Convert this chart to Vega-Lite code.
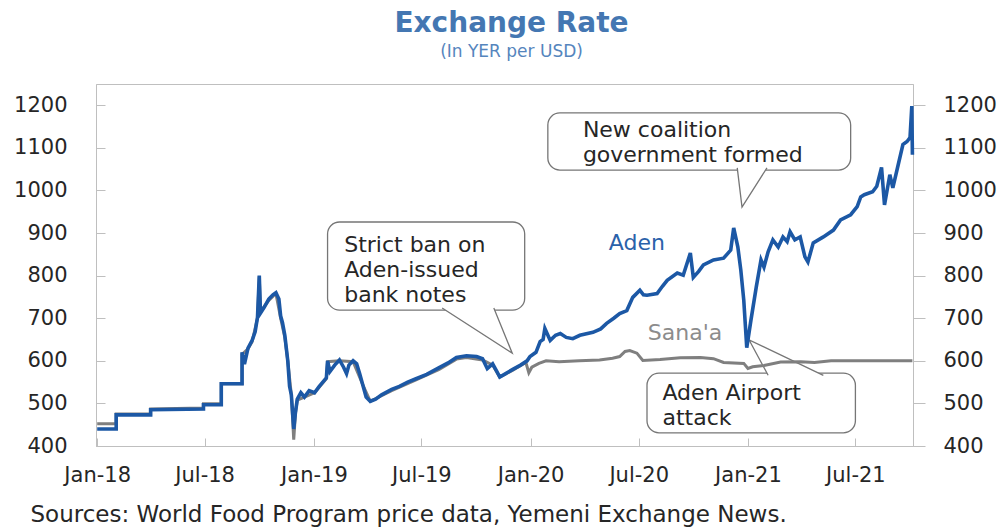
{
  "$schema": "https://vega.github.io/schema/vega-lite/v6.json",
  "width": 817,
  "height": 362,
  "autosize": {"type": "none"},
  "padding": {"left": 96, "top": 84, "right": 95, "bottom": 81},
  "background": "white",
  "title": {
    "text": "Exchange Rate",
    "subtitle": "(In YER per USD)",
    "anchor": "middle",
    "frame": "group",
    "dx": 7,
    "offset": 24,
    "font": "DejaVu Sans",
    "fontSize": 28,
    "fontWeight": "bold",
    "color": "#4477b2",
    "subtitleFont": "DejaVu Sans",
    "subtitleFontSize": 17,
    "subtitleColor": "#5585bd",
    "subtitlePadding": 6
  },
  "config": {
    "view": {"stroke": "#bfbfbf", "strokeWidth": 1},
    "font": "DejaVu Sans"
  },
  "datasets": {
    "aden": [
      {"date": "2018-01-01", "value": 440}, {"date": "2018-02-02", "value": 440}, {"date": "2018-02-02", "value": 473},
      {"date": "2018-04-01", "value": 473}, {"date": "2018-04-01", "value": 485}, {"date": "2018-06-29", "value": 487},
      {"date": "2018-06-29", "value": 497}, {"date": "2018-07-29", "value": 497}, {"date": "2018-07-29", "value": 546},
      {"date": "2018-09-02", "value": 546}, {"date": "2018-09-02", "value": 620}, {"date": "2018-09-06", "value": 592},
      {"date": "2018-09-12", "value": 630}, {"date": "2018-09-19", "value": 648}, {"date": "2018-09-24", "value": 668},
      {"date": "2018-09-28", "value": 702}, {"date": "2018-10-01", "value": 800}, {"date": "2018-10-03", "value": 712},
      {"date": "2018-10-09", "value": 725}, {"date": "2018-10-17", "value": 745}, {"date": "2018-10-24", "value": 755},
      {"date": "2018-10-29", "value": 760}, {"date": "2018-11-03", "value": 745}, {"date": "2018-11-06", "value": 705},
      {"date": "2018-11-09", "value": 690}, {"date": "2018-11-13", "value": 660}, {"date": "2018-11-18", "value": 600},
      {"date": "2018-11-21", "value": 540}, {"date": "2018-11-24", "value": 520}, {"date": "2018-11-28", "value": 440},
      {"date": "2018-12-01", "value": 480}, {"date": "2018-12-04", "value": 510}, {"date": "2018-12-10", "value": 525},
      {"date": "2018-12-16", "value": 515}, {"date": "2018-12-24", "value": 530}, {"date": "2019-01-02", "value": 525},
      {"date": "2019-01-10", "value": 540}, {"date": "2019-01-16", "value": 550}, {"date": "2019-01-22", "value": 560},
      {"date": "2019-01-24", "value": 600}, {"date": "2019-01-28", "value": 575}, {"date": "2019-02-05", "value": 590},
      {"date": "2019-02-13", "value": 602}, {"date": "2019-02-20", "value": 585}, {"date": "2019-02-25", "value": 570},
      {"date": "2019-03-01", "value": 590}, {"date": "2019-03-08", "value": 600}, {"date": "2019-03-14", "value": 593},
      {"date": "2019-03-19", "value": 570}, {"date": "2019-03-24", "value": 545}, {"date": "2019-03-30", "value": 515},
      {"date": "2019-04-06", "value": 505}, {"date": "2019-04-15", "value": 510}, {"date": "2019-04-25", "value": 520},
      {"date": "2019-05-12", "value": 533}, {"date": "2019-05-25", "value": 540}, {"date": "2019-06-08", "value": 550},
      {"date": "2019-06-22", "value": 558}, {"date": "2019-07-10", "value": 568}, {"date": "2019-07-31", "value": 584},
      {"date": "2019-08-15", "value": 595}, {"date": "2019-08-29", "value": 608}, {"date": "2019-09-15", "value": 612},
      {"date": "2019-10-02", "value": 610}, {"date": "2019-10-12", "value": 605}, {"date": "2019-10-20", "value": 582},
      {"date": "2019-10-29", "value": 593}, {"date": "2019-11-05", "value": 575}, {"date": "2019-11-10", "value": 562},
      {"date": "2019-11-20", "value": 570}, {"date": "2019-12-02", "value": 580}, {"date": "2019-12-15", "value": 590},
      {"date": "2019-12-26", "value": 600}, {"date": "2019-12-31", "value": 610}, {"date": "2020-01-10", "value": 620},
      {"date": "2020-01-17", "value": 645}, {"date": "2020-01-22", "value": 650}, {"date": "2020-01-25", "value": 676},
      {"date": "2020-02-03", "value": 648}, {"date": "2020-02-12", "value": 660}, {"date": "2020-02-20", "value": 664},
      {"date": "2020-03-01", "value": 655}, {"date": "2020-03-12", "value": 652}, {"date": "2020-03-24", "value": 660},
      {"date": "2020-04-15", "value": 667}, {"date": "2020-04-28", "value": 675}, {"date": "2020-05-08", "value": 688},
      {"date": "2020-05-20", "value": 700}, {"date": "2020-05-30", "value": 711}, {"date": "2020-06-11", "value": 718},
      {"date": "2020-06-21", "value": 749}, {"date": "2020-07-03", "value": 766}, {"date": "2020-07-09", "value": 755},
      {"date": "2020-07-15", "value": 754}, {"date": "2020-08-01", "value": 758}, {"date": "2020-08-10", "value": 775},
      {"date": "2020-08-18", "value": 789}, {"date": "2020-09-04", "value": 806}, {"date": "2020-09-14", "value": 801},
      {"date": "2020-09-26", "value": 853}, {"date": "2020-10-01", "value": 796}, {"date": "2020-10-10", "value": 810},
      {"date": "2020-10-18", "value": 825}, {"date": "2020-11-04", "value": 837}, {"date": "2020-11-21", "value": 841},
      {"date": "2020-12-03", "value": 860}, {"date": "2020-12-08", "value": 912}, {"date": "2020-12-15", "value": 867},
      {"date": "2020-12-20", "value": 813}, {"date": "2020-12-25", "value": 742}, {"date": "2020-12-30", "value": 631},
      {"date": "2021-01-06", "value": 695}, {"date": "2021-01-15", "value": 773}, {"date": "2021-01-23", "value": 837},
      {"date": "2021-01-28", "value": 820}, {"date": "2021-02-04", "value": 856}, {"date": "2021-02-12", "value": 884},
      {"date": "2021-02-21", "value": 867}, {"date": "2021-03-01", "value": 891}, {"date": "2021-03-08", "value": 880},
      {"date": "2021-03-13", "value": 903}, {"date": "2021-03-21", "value": 884}, {"date": "2021-03-30", "value": 891},
      {"date": "2021-04-07", "value": 844}, {"date": "2021-04-12", "value": 832}, {"date": "2021-04-21", "value": 877},
      {"date": "2021-05-08", "value": 891}, {"date": "2021-05-25", "value": 907}, {"date": "2021-06-06", "value": 931},
      {"date": "2021-06-23", "value": 943}, {"date": "2021-07-04", "value": 962}, {"date": "2021-07-10", "value": 985},
      {"date": "2021-07-16", "value": 990}, {"date": "2021-07-30", "value": 997}, {"date": "2021-08-06", "value": 1010},
      {"date": "2021-08-14", "value": 1054}, {"date": "2021-08-19", "value": 966}, {"date": "2021-08-28", "value": 1037},
      {"date": "2021-09-02", "value": 1006}, {"date": "2021-09-10", "value": 1054}, {"date": "2021-09-19", "value": 1108},
      {"date": "2021-09-26", "value": 1115}, {"date": "2021-10-01", "value": 1124}, {"date": "2021-10-04", "value": 1198},
      {"date": "2021-10-05", "value": 1084}
    ],
    "sanaa": [
      {"date": "2018-01-01", "value": 452}, {"date": "2018-02-02", "value": 452}, {"date": "2018-02-02", "value": 475},
      {"date": "2018-04-01", "value": 475}, {"date": "2018-04-01", "value": 487}, {"date": "2018-06-29", "value": 489},
      {"date": "2018-06-29", "value": 499}, {"date": "2018-07-29", "value": 499}, {"date": "2018-07-29", "value": 546},
      {"date": "2018-09-02", "value": 546}, {"date": "2018-09-02", "value": 615}, {"date": "2018-09-12", "value": 628},
      {"date": "2018-09-19", "value": 645}, {"date": "2018-09-28", "value": 700}, {"date": "2018-10-01", "value": 798},
      {"date": "2018-10-03", "value": 715}, {"date": "2018-10-17", "value": 742}, {"date": "2018-10-29", "value": 758},
      {"date": "2018-11-06", "value": 700}, {"date": "2018-11-13", "value": 655}, {"date": "2018-11-18", "value": 600},
      {"date": "2018-11-24", "value": 520}, {"date": "2018-11-28", "value": 415}, {"date": "2018-12-01", "value": 478},
      {"date": "2018-12-04", "value": 508}, {"date": "2018-12-16", "value": 515}, {"date": "2019-01-02", "value": 525},
      {"date": "2019-01-22", "value": 558}, {"date": "2019-01-24", "value": 598}, {"date": "2019-02-13", "value": 600},
      {"date": "2019-03-08", "value": 598}, {"date": "2019-03-24", "value": 545}, {"date": "2019-04-06", "value": 505},
      {"date": "2019-05-12", "value": 530}, {"date": "2019-06-22", "value": 555}, {"date": "2019-07-31", "value": 580},
      {"date": "2019-08-29", "value": 604}, {"date": "2019-09-15", "value": 608}, {"date": "2019-10-12", "value": 602},
      {"date": "2019-10-29", "value": 590}, {"date": "2019-11-10", "value": 562}, {"date": "2019-12-02", "value": 578},
      {"date": "2019-12-24", "value": 596}, {"date": "2019-12-29", "value": 572}, {"date": "2020-01-03", "value": 585},
      {"date": "2020-01-15", "value": 594}, {"date": "2020-01-27", "value": 600}, {"date": "2020-02-18", "value": 598},
      {"date": "2020-03-23", "value": 600}, {"date": "2020-04-26", "value": 602}, {"date": "2020-05-18", "value": 606},
      {"date": "2020-05-30", "value": 610}, {"date": "2020-06-08", "value": 622}, {"date": "2020-06-16", "value": 624},
      {"date": "2020-06-28", "value": 618}, {"date": "2020-07-08", "value": 601}, {"date": "2020-08-06", "value": 603},
      {"date": "2020-09-09", "value": 607}, {"date": "2020-10-13", "value": 608}, {"date": "2020-11-04", "value": 605},
      {"date": "2020-11-21", "value": 596}, {"date": "2020-12-25", "value": 594}, {"date": "2021-01-01", "value": 582},
      {"date": "2021-01-09", "value": 586}, {"date": "2021-01-28", "value": 589}, {"date": "2021-02-25", "value": 597},
      {"date": "2021-03-31", "value": 598}, {"date": "2021-04-23", "value": 596}, {"date": "2021-05-21", "value": 600},
      {"date": "2021-07-12", "value": 600}, {"date": "2021-10-05", "value": 600}
    ],
    "boxes": [
      {"id": "ban", "x1": "2019-01-24", "x2": "2019-12-22", "y1": 926, "y2": 719},
      {"id": "coalition", "x1": "2020-01-30", "x2": "2021-06-23", "y1": 1182, "y2": 1048},
      {"id": "airport", "x1": "2020-07-15", "x2": "2021-07-01", "y1": 571, "y2": 431}
    ],
    "pointers": [
      {"id": "ban", "k": 1, "date": "2019-08-05", "value": 724},
      {"id": "ban", "k": 2, "date": "2019-12-01", "value": 618},
      {"id": "ban", "k": 3, "date": "2019-10-31", "value": 724},
      {"id": "coalition", "k": 1, "date": "2020-12-14", "value": 1053},
      {"id": "coalition", "k": 2, "date": "2020-12-22", "value": 961},
      {"id": "coalition", "k": 3, "date": "2021-02-02", "value": 1053},
      {"id": "airport", "k": 1, "date": "2021-02-04", "value": 566},
      {"id": "airport", "k": 2, "date": "2021-01-03", "value": 649},
      {"id": "airport", "k": 3, "date": "2021-05-08", "value": 566}
    ],
    "notes": [
      {"label": "Strict ban on", "date": "2019-02-21", "value": 872},
      {"label": "Aden-issued", "date": "2019-02-21", "value": 813},
      {"label": "bank notes", "date": "2019-02-21", "value": 755},
      {"label": "New coalition", "date": "2020-03-29", "value": 1142},
      {"label": "government formed", "date": "2020-03-29", "value": 1083},
      {"label": "Aden Airport", "date": "2020-08-10", "value": 524},
      {"label": "attack", "date": "2020-08-10", "value": 466}
    ],
    "series": [
      {"label": "Aden", "date": "2020-06-28", "value": 877},
      {"label": "Sana'a", "date": "2020-09-17", "value": 665}
    ]
  },
  "layer": [
    {
      "data": {"name": "boxes"},
      "mark": {"type": "rect", "fill": "white", "stroke": "#767676", "strokeWidth": 1.3, "cornerRadius": 12},
      "encoding": {
        "x": {
          "field": "x1", "type": "temporal",
          "scale": {"domain": [{"year": 2017, "month": 12, "date": 30}, {"year": 2021, "month": 10, "date": 6}]},
          "axis": {
            "format": "%b-%y", "tickCount": {"interval": "month", "step": 6}, "labelFlush": false, "labelOverlap": false,
            "grid": false, "domainColor": "#bfbfbf", "tickColor": "#bfbfbf", "tickSize": -8, "labelPadding": 26,
            "labelFontSize": 21, "labelColor": "#262626", "labelFont": "DejaVu Sans",
            "title": "Sources: World Food Program price data, Yemeni Exchange News.",
            "titleAnchor": "start", "titleAlign": "left", "titleX": -66, "titleY": 75, "titleBaseline": "alphabetic",
            "titleFont": "DejaVu Sans", "titleFontSize": 23, "titleFontWeight": "normal", "titleColor": "#262626"
          }
        },
        "x2": {"field": "x2"},
        "y": {"field": "y1", "type": "quantitative", "axis": null, "scale": {"domain": [400, 1250], "zero": false, "nice": false}},
        "y2": {"field": "y2"}
      }
    },
    {
      "data": {"name": "pointers"},
      "mark": {"type": "line", "fill": "white", "stroke": "#767676", "strokeWidth": 1.3},
      "encoding": {
        "x": {"field": "date", "type": "temporal"},
        "y": {"field": "value", "type": "quantitative", "axis": null, "scale": {"domain": [400, 1250], "zero": false, "nice": false}},
        "detail": {"field": "id"},
        "order": {"field": "k"}
      }
    },
    {
      "data": {"name": "sanaa"},
      "mark": {"type": "line", "color": "#7f7f7f", "strokeWidth": 3},
      "encoding": {
        "x": {"field": "date", "type": "temporal"},
        "y": {
          "field": "value", "type": "quantitative",
          "scale": {"domain": [400, 1250], "zero": false, "nice": false},
          "axis": {
            "orient": "right", "title": null, "values": [400, 500, 600, 700, 800, 900, 1000, 1100, 1200], "format": "d",
            "grid": false, "domainColor": "#bfbfbf", "tickColor": "#bfbfbf", "tickSize": 12, "labelPadding": 18,
            "labelFontSize": 21, "labelColor": "#262626", "labelFont": "DejaVu Sans"
          }
        }
      }
    },
    {
      "data": {"name": "aden"},
      "mark": {"type": "line", "color": "#1c58a5", "strokeWidth": 3.6},
      "encoding": {
        "x": {"field": "date", "type": "temporal"},
        "y": {
          "field": "value", "type": "quantitative",
          "scale": {"domain": [400, 1250], "zero": false, "nice": false},
          "axis": {
            "orient": "left", "title": null, "values": [400, 500, 600, 700, 800, 900, 1000, 1100, 1200], "format": "d",
            "grid": false, "domainColor": "#bfbfbf", "tickColor": "#bfbfbf", "tickSize": -9, "labelPadding": 38,
            "labelFontSize": 21, "labelColor": "#262626", "labelFont": "DejaVu Sans"
          }
        }
      }
    },
    {
      "data": {"name": "series"},
      "mark": {"type": "text", "fontSize": 22, "align": "center", "baseline": "middle", "font": "DejaVu Sans"},
      "encoding": {
        "x": {"field": "date", "type": "temporal"},
        "y": {"field": "value", "type": "quantitative", "axis": null, "scale": {"domain": [400, 1250], "zero": false, "nice": false}},
        "text": {"field": "label"},
        "color": {"field": "label", "type": "nominal", "scale": {"domain": ["Aden", "Sana'a"], "range": ["#2a62aa", "#8c8c8c"]}, "legend": null}
      }
    },
    {
      "data": {"name": "notes"},
      "mark": {"type": "text", "fontSize": 22, "align": "left", "baseline": "middle", "font": "DejaVu Sans", "color": "#262626"},
      "encoding": {
        "x": {"field": "date", "type": "temporal"},
        "y": {"field": "value", "type": "quantitative", "axis": null, "scale": {"domain": [400, 1250], "zero": false, "nice": false}},
        "text": {"field": "label"}
      }
    }
  ],
  "resolve": {"axis": {"y": "independent"}}
}
